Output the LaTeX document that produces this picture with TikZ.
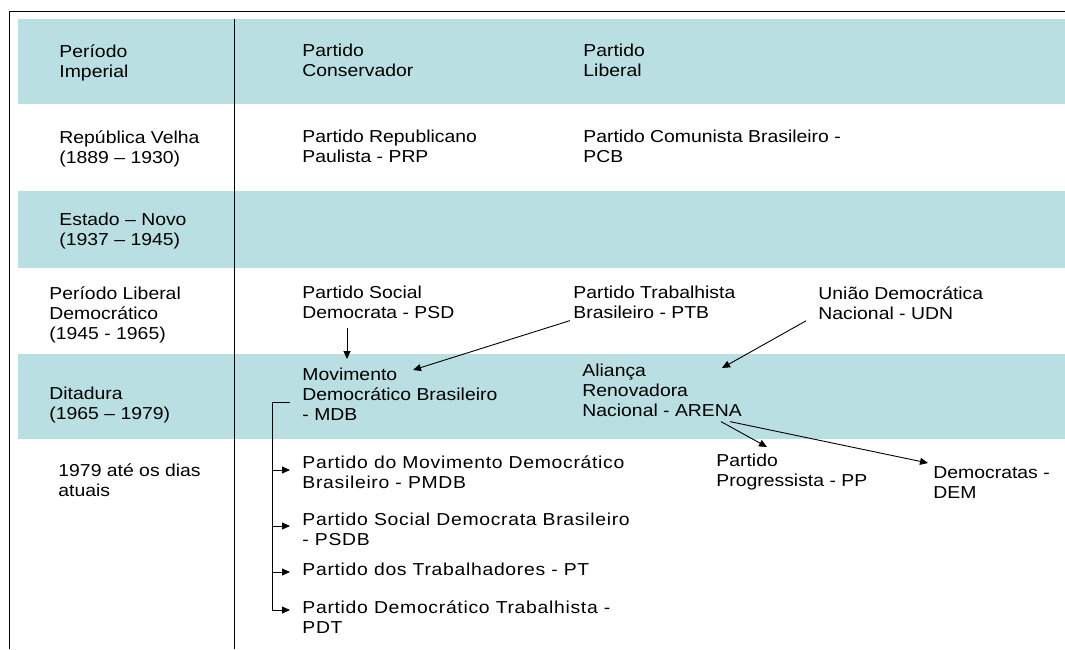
\documentclass[tikz,border=0pt]{standalone}
\usepackage{fontspec}
\setmainfont{Liberation Sans}[FakeStretch=1.12]
\usetikzlibrary{arrows.meta}
\definecolor{faixa}{RGB}{186,223,227}
\begin{document}
\begin{tikzpicture}[x=1pt, y=-1pt, line width=0.9pt,
  txt/.style = {anchor=north west, align=left, inner sep=0pt, font=\fontsize{17.3}{20}\selectfont},
  txtlargo/.style = {txt, font=\fontsize{17.3}{20}\selectfont\addfontfeature{LetterSpace=4}},
  seta/.style = {-{Triangle[length=8pt,width=7pt]}}]
\useasboundingbox (0,0) rectangle (1065,649);
% faixas azuis
\fill[faixa] (18,19) rectangle (1065,104);
\fill[faixa] (18,191) rectangle (1065,268);
\fill[faixa] (18,354) rectangle (1065,439);
% moldura e divisoria
\draw (9,649) -- (9,11) -- (1065,11);
\draw (234,19) -- (234,649);
% periodos
\node[txt] (imp) at (59,44) {Período\\Imperial};
\node[txt] (rv) at (59,130) {República Velha\\(1889 – 1930)};
\node[txt] (en) at (59,213) {Estado – Novo\\(1937 – 1945)};
\node[txt] (pld) at (49,286) {Período Liberal\\Democrático\\(1945 - 1965)};
\node[txt] (dit) at (49,387) {Ditadura\\(1965 – 1979)};
\node[txt] (atual) at (58,463) {1979 até os dias\\atuais};
% partidos
\node[txt] (pc) at (302,44) {Partido\\Conservador};
\node[txt] (pl) at (583,44) {Partido\\Liberal};
\node[txt] (prp) at (302,130) {Partido Republicano\\Paulista - PRP};
\node[txt] (pcb) at (583,130) {Partido Comunista Brasileiro -\\PCB};
\node[txt] (psd) at (302,286) {Partido Social\\Democrata - PSD};
\node[txt] (ptb) at (573,286) {Partido Trabalhista\\Brasileiro - PTB};
\node[txt] (udn) at (818,286) {União Democrática\\Nacional - UDN};
\node[txt] (mdb) at (302,368) {Movimento\\Democrático Brasileiro\\- MDB};
\node[txt] (arena) at (582,364) {Aliança\\Renovadora\\Nacional - ARENA};
\node[txtlargo] (pmdb) at (302,455) {Partido do Movimento Democrático\\Brasileiro - PMDB};
\node[txt] (pp) at (716,454) {Partido\\Progressista - PP};
\node[txt] (dem) at (933,466) {Democratas -\\DEM};
\node[txtlargo] (psdb) at (302,513) {Partido Social Democrata Brasileiro\\- PSDB};
\node[txtlargo] (pt) at (302,563) {Partido dos Trabalhadores - PT};
\node[txtlargo] (pdt) at (302,600) {Partido Democrático Trabalhista -\\PDT};
% fusoes
\draw[seta] ([shift={(45,8)}]psd.south west) -- ([shift={(45,-9)}]mdb.north west);
\draw[seta] ([shift={(-3,1)}]ptb.south west) -- ([shift={(111,2)}]mdb.north west);
\draw[seta] ([shift={(-12,1)}]udn.south west) -- ([shift={(140,4)}]arena.north west);
\draw[seta] ([shift={(139,4)}]arena.south west) -- ([shift={(51,-7)}]pp.north west);
\draw[seta] ([shift={(148,4)}]arena.south west) -- ([shift={(-5,-3)}]dem.north west);
% desdobramento do MDB
\coordinate (mdbL) at ([xshift=-12]mdb.west |- 0,402);
\coordinate (br) at (272,402);
\draw (mdbL) -- (br);
\draw[seta] (br) |- ([shift={(-12,10)}]pdt.north west);
\draw[seta] (br |- 0,470) -- ([shift={(-12,15)}]pmdb.north west);
\draw[seta] (br |- 0,526) -- ([shift={(-12,13)}]psdb.north west);
\draw[seta] (br |- 0,572) -- ([shift={(-12,9)}]pt.north west);
\end{tikzpicture}
\end{document}
